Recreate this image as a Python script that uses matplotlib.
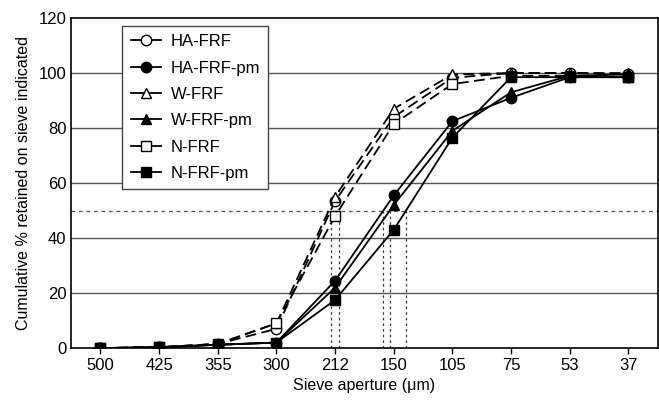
import numpy as np
from matplotlib import pyplot as plt

plt.rcParams['font.family'] = ['Liberation Sans', 'DejaVu Sans']

sieves = ['500', '425', '355', '300', '212', '150', '105', '75', '53', '37']

ha_frf = [0, 0.3, 1.5, 7, 53.5, 84, 98.3, 100, 100, 99.5]
ha_frf_pm = [0, 0.3, 1.2, 2, 24.5, 55.5, 82.5, 91, 98.5, 98.5]
w_frf = [0, 0.3, 1.5, 9, 55, 87, 99.5, 100, 100, 100]
w_frf_pm = [0, 0.3, 1.2, 2, 22, 52, 79, 93, 99, 99.5]
n_frf = [0, 0.3, 1.5, 9, 48, 81.5, 96, 99, 99, 98.5]
n_frf_pm = [0, 0.3, 1.2, 2, 17.5, 43, 76.5, 98.5, 98.5, 98.5]

x = np.arange(len(sieves))

fig = plt.figure(figsize=(6.59, 4.01), dpi=100)
ax = fig.add_axes([0.108, 0.132, 0.89, 0.823])

for v in [20, 40, 60, 80, 100]:
    ax.axhline(v, color='#555555', lw=1.0, zorder=0)
ax.axhline(50, color='#555555', lw=0.9, ls=(0, (3, 3)), zorder=0)

# 50 % crossings
for s in [ha_frf, n_frf, ha_frf_pm, w_frf_pm, n_frf_pm]:
    s = np.array(s)
    i = np.argmax(s >= 50)
    xc = x[i-1] + (50 - s[i-1]) / (s[i] - s[i-1])
    ax.plot([xc, xc], [0, 50], color='#333333', lw=0.9, ls=(0, (2, 2.5)), zorder=1)

dash = (0, (6, 3))
ms = 7.5
ax.plot(x, ha_frf, color='k', lw=1.3, ls=dash, marker='o', mfc='white', mec='k', ms=ms, label='HA-FRF')
ax.plot(x, ha_frf_pm, color='k', lw=1.3, marker='o', mfc='k', mec='k', ms=ms, label='HA-FRF-pm')
ax.plot(x, w_frf, color='k', lw=1.3, ls=dash, marker='^', mfc='white', mec='k', ms=ms, label='W-FRF')
ax.plot(x, w_frf_pm, color='k', lw=1.3, marker='^', mfc='k', mec='k', ms=ms, label='W-FRF-pm')
ax.plot(x, n_frf, color='k', lw=1.3, ls=dash, marker='s', mfc='white', mec='k', ms=ms, label='N-FRF')
ax.plot(x, n_frf_pm, color='k', lw=1.3, marker='s', mfc='k', mec='k', ms=ms, label='N-FRF-pm')

ax.set_xlim(-0.5, 9.5)
ax.set_ylim(0, 120)
ax.set_xticks(x)
ax.set_xticklabels(sieves)
ax.set_yticks(range(0, 121, 20))
ax.tick_params(labelsize=12, direction='out', length=4, width=1)
ax.tick_params(axis='y', length=0)
for sp in ax.spines.values():
    sp.set_linewidth(1.2)

ax.set_xlabel('Sieve aperture (\u03bcm)', fontsize=11.5, labelpad=3)
ax.set_ylabel('Cumulative % retained on sieve indicated', fontsize=11.5, labelpad=5)

leg = ax.legend(loc='upper left', bbox_to_anchor=(0.087, 0.976), borderaxespad=0,
                fontsize=12, frameon=True, fancybox=False, edgecolor='#444444',
                framealpha=1, handlelength=1.8, labelspacing=0.68, borderpad=0.5,
                handletextpad=0.6)
leg.get_frame().set_linewidth(1.0)
for h in leg.get_lines():
    h.set_linestyle('-')

fig.savefig('out.png', dpi=100)
